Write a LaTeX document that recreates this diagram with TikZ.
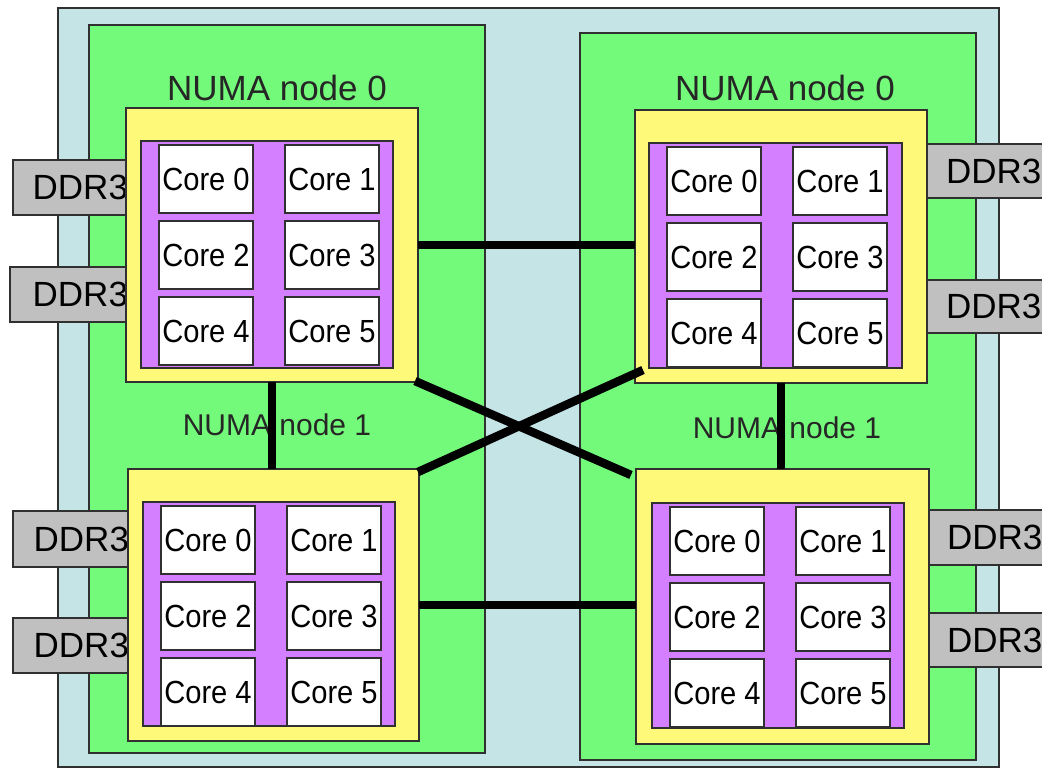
\documentclass[tikz,border=0pt]{standalone}
\usepackage{fontspec}
\setmainfont{Liberation Sans}
\usetikzlibrary{calc}
\definecolor{bgblue}{HTML}{C4E4E6}
\definecolor{numagreen}{HTML}{74FA7A}
\definecolor{chipyellow}{HTML}{FFF97A}
\definecolor{diepurple}{HTML}{D47FFF}
\definecolor{ddrgray}{HTML}{C0C0C0}
\definecolor{edge}{HTML}{303030}
\tikzset{
  outline/.style={draw=edge, line width=1.5pt, inner sep=0pt, outer sep=0pt},
  bgbox/.style={outline, fill=bgblue},
  socketbox/.style={outline, fill=numagreen},
  chipbox/.style={outline, fill=chipyellow},
  diebox/.style={outline, fill=diepurple},
  corebox/.style={outline, fill=white, font=\fontsize{32}{33}\selectfont},
  ddrbox/.style={outline, fill=ddrgray, font=\fontsize{35}{36}\selectfont},
  toplabel/.style={inner sep=0pt, font=\fontsize{35}{36}\selectfont, text=black!85},
  sublabel/.style={inner sep=0pt, font=\fontsize{30}{31}\selectfont, text=black!85},
  link/.style={line width=8.5pt, draw=black}
}
\newcommand\rbox[7]{\node[#1, minimum width={(#5)-(#3)}, minimum height={(#6)-(#4)}] (#2) at ({((#3)+(#5))/2},{((#4)+(#6))/2}) {#7};}
\newcommand\coregrid[3]{%
  \foreach \i in {0,...,5}{%
    \pgfmathtruncatemacro\cc{mod(\i,2)}%
    \pgfmathtruncatemacro\rr{div(\i,2)}%
    \rbox{corebox}{#1\i}{#2+18+126*\cc}{#3+4+76*\rr}{#2+112+126*\cc}{#3+72+76*\rr}{\raisebox{-3pt}{\scalebox{0.91}[1]{Core \i}}}
  }}
\begin{document}
\begin{tikzpicture}[x=1pt,y=-1pt]
\useasboundingbox (0,0) rectangle (1042,768);
\clip (0,0) rectangle (1042,768);
% background
\rbox{bgbox}{board}{58}{8}{999}{767}{}
\rbox{socketbox}{sockL}{89}{25}{485}{753}{}
\rbox{socketbox}{sockR}{580}{33}{976}{760}{}
% memory
\rbox{ddrbox}{dTL1}{13}{160}{128}{215}{\makebox[115pt][r]{DDR3}}
\rbox{ddrbox}{dTL2}{10}{267}{128}{322}{\makebox[118pt][r]{DDR3}}
\rbox{ddrbox}{dBL1}{13}{511}{129}{567}{\makebox[116pt][r]{DDR3}}
\rbox{ddrbox}{dBL2}{13}{618}{129}{673}{\makebox[116pt][r]{DDR3}}
\rbox{ddrbox}{dTR1}{927}{144}{1050}{198}{\makebox[123pt][l]{\hspace{19pt}DDR3}}
\rbox{ddrbox}{dTR2}{927}{280}{1050}{333}{\makebox[123pt][l]{\hspace{19pt}DDR3}}
\rbox{ddrbox}{dBR1}{928}{510}{1050}{565}{\makebox[122pt][l]{\hspace{19pt}DDR3}}
\rbox{ddrbox}{dBR2}{928}{613}{1050}{667}{\makebox[122pt][l]{\hspace{19pt}DDR3}}
% chips
\rbox{chipbox}{TL}{126}{108}{418}{382}{}
\rbox{chipbox}{TR}{635}{110}{927}{383}{}
\rbox{chipbox}{BL}{128}{469}{419}{741}{}
\rbox{chipbox}{BR}{636}{469}{929}{744}{}
\rbox{diebox}{pTL}{141}{141}{393}{368}{}
\rbox{diebox}{pTR}{649}{143}{902}{368}{}
\rbox{diebox}{pBL}{143}{502}{395}{726}{}
\rbox{diebox}{pBR}{652}{503}{904}{728}{}
\coregrid{cTL}{141}{141}
\coregrid{cTR}{649}{143}
\coregrid{cBL}{143}{502}
\coregrid{cBR}{652}{503}
% labels
\node[toplabel] (lTL) at (277,88) {NUMA node 0};
\node[toplabel] (lTR) at (785,88) {NUMA node 0};
\node[sublabel] (lBL) at (277,425) {NUMA node 1};
\node[sublabel] (lBR) at (787,428) {NUMA node 1};
% links
\draw[link] (TL.east) -- (TL.east -| TR.west);
\draw[link] (BL.east) -- (BL.east -| BR.west);
\draw[link] (TL.south) -- (TL.south |- BL.north);
\draw[link] (TR.south) -- (TR.south |- BR.north);
\draw[link] ($(TL.south east)+(-3,-1)$) -- ($(BR.north west)+(-5,6)$);
\draw[link] ($(BL.north east)+(-1,3)$) -- ($(TR.south west)+(8,-13)$);
\end{tikzpicture}
\end{document}
